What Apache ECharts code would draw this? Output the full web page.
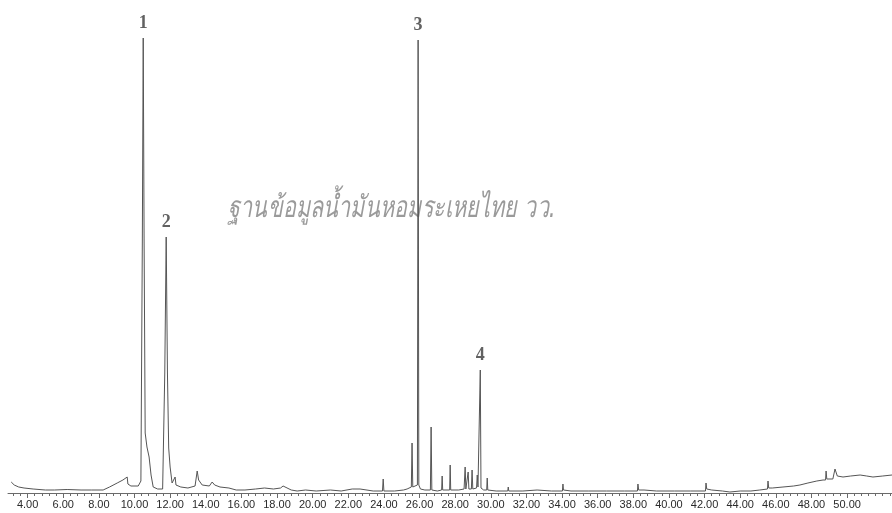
<!DOCTYPE html>
<html>
<head>
<meta charset="utf-8">
<script src="https://cdn.jsdelivr.net/npm/echarts@6/dist/echarts.min.js"></script>
<style>
html,body{margin:0;padding:0;background:#fff;}
#chart{width:892px;height:513px;}
</style>
</head>
<body>
<div id="chart"></div>
<script>
// Retention time (min) and detector signal (relative units)
const retentionTime = [3.08,3.25,3.5,3.8,4.31,5.0,5.5,6.22,7.0,7.6,8.24,8.6,9.03,9.35,9.59,9.63,9.8,10.21,10.36,10.44,10.49,10.54,10.60,10.70,10.82,10.93,11.05,11.3,11.58,11.70,11.78,11.85,11.92,12.00,12.11,12.2,12.28,12.33,12.6,13.0,13.4,13.52,13.6,13.8,14.2,14.36,14.5,14.8,15.3,15.71,16.2,16.8,17.3,17.8,18.2,18.34,18.45,18.8,19.13,19.6,20.2,21.0,21.6,22.22,22.3,22.66,22.75,23.4,23.92,23.96,24.0,24.6,25.1,25.3,25.54,25.58,25.62,25.7,25.88,25.92,25.96,26.05,26.3,26.61,26.65,26.69,27.0,27.24,27.27,27.3,27.69,27.72,27.75,28.2,28.5,28.56,28.6,28.69,28.73,28.77,28.91,28.95,28.99,29.2,29.24,29.28,29.37,29.41,29.45,29.6,29.77,29.80,29.83,30.3,30.95,30.98,31.01,31.8,32.6,33.4,34.02,34.05,34.08,34.5,35.5,36.5,37.5,38.23,38.26,38.3,38.6,39.3,40.31,40.34,40.4,41.2,42.05,42.08,42.12,42.4,43.0,43.42,44.0,44.6,45.1,45.53,45.56,45.6,45.8,46.4,47.0,47.35,47.8,48.3,48.65,48.79,48.82,48.86,49.2,49.32,49.45,49.77,50.2,50.73,51.1,51.45,52.0,52.52];
const signal = [11,8,6,5,4,3,3,3.5,3,3,3,6,10,13,16,9,7,7,12,250,455,250,60,46,36,18,6,4,4,120,256,120,45,26,10,8,16,8,6,5,7,22,13,8,7,11,8,6,5,3,3,4,5,4,5,7,5,3,2,3,2,3,2,4,2,4,2,2,2,14,2,2,3,4,6,50,6,5,8,453,8,4,3,3,66,3,2,3,17,3,3,28,3,3,4,26,4,4,21,4,4,23,4,5,18,6,6,123,5,3,3,15,3,2,2,6,2,2,3,2,2,9,3,2,2,2,2,2,9,3,3,2,2,4,2,2,2,10,4,3,2,1,2,2,3,4,12,5,5,6,7,8,10,12,13,13,22,14,14,24,17,16,17,18,17,16,17,18];

// Numbered peaks
const peakNames = ['1','2','3','4'];
const peakTimes = [10.49, 11.78, 25.92, 29.41];
const peakHeights = [455, 256, 453, 123];

// Axis tick labels (min)
const tickLabels = [4,6,8,10,12,14,16,18,20,22,24,26,28,30,32,34,36,38,40,42,44,46,48,50];
const minorStep = 0.4;

const watermark = 'ฐานข้อมูลน้ำมันหอมระเหยไทย วว.';

const xMin = 2.9, xMax = 52.52;
const minorTicks = [];
for (let v = 3.2; v <= xMax + 1e-9; v = Math.round((v + minorStep) * 100) / 100) minorTicks.push(v);

const chart = echarts.init(document.getElementById('chart'), null, {renderer: 'canvas'});
const traceData = retentionTime.map((t, i) => [t, signal[i]]);
const peakData = peakTimes.map((t, i) => ({name: peakNames[i], value: [t, peakHeights[i]]}));

chart.setOption({
  animation: false,
  backgroundColor: '#ffffff',
  grid: {left: 8, right: 0, top: 0, bottom: 20},
  xAxis: [{
    type: 'value', min: xMin, max: xMax,
    axisLine: {show: true, lineStyle: {color: '#6a6a6a', width: 1}},
    axisTick: {show: true, customValues: tickLabels, length: 5, lineStyle: {color: '#6a6a6a'}},
    axisLabel: {show: true, customValues: tickLabels, margin: 6, fontSize: 11,
      fontFamily: 'Liberation Sans, Arial, sans-serif', color: '#2a2a2a',
      formatter: v => v.toFixed(2)},
    splitLine: {show: false}
  }, {
    type: 'value', min: xMin, max: xMax, position: 'bottom',
    axisLine: {show: false},
    axisTick: {show: true, customValues: minorTicks, length: 3, lineStyle: {color: '#6a6a6a'}},
    axisLabel: {show: false},
    splitLine: {show: false}
  }],
  yAxis: {type: 'value', min: 0, max: 493, show: false},
  graphic: [{
    type: 'text', x: 228, y: 194, scaleX: 0.72, z: 0, silent: true,
    style: {
      text: watermark,
      font: 'italic 30px "DejaVu Sans", "Noto Sans", sans-serif',
      fill: '#9a9a9a',
      shadowColor: 'rgba(110,110,110,0.5)', shadowOffsetX: 1.5, shadowOffsetY: 1.5, shadowBlur: 1
    }
  }],
  series: [{
    type: 'line', xAxisIndex: 0, data: traceData, showSymbol: false, symbol: 'none',
    lineStyle: {color: '#555555', width: 1}, z: 3
  }, {
    type: 'scatter', xAxisIndex: 0, data: peakData, symbolSize: 0, z: 4,
    label: {show: true, position: 'top', distance: 6, formatter: p => p.name,
      fontFamily: '"Liberation Serif", "Times New Roman", serif', fontSize: 18, fontWeight: 'bold', color: '#3a3a3a'}
  }]
});
</script>
</body>
</html>
